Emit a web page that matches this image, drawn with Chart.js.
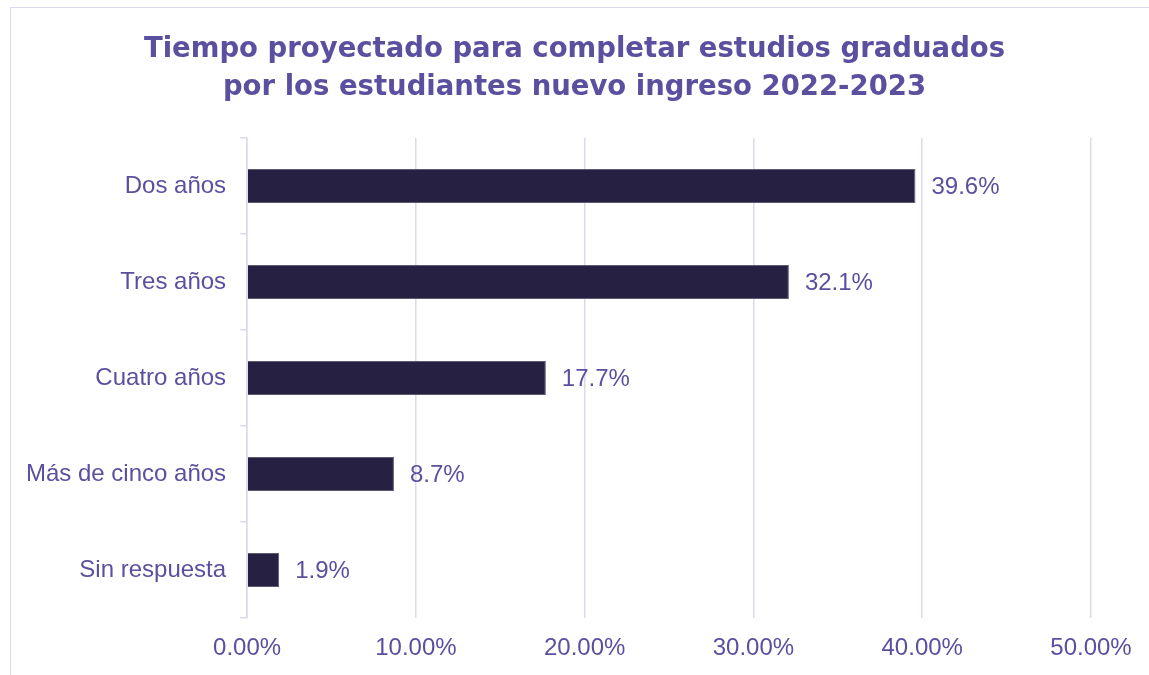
<!DOCTYPE html>
<html>
<head>
<meta charset="utf-8">
<script src="https://cdn.jsdelivr.net/npm/chart.js@4"></script>
<style>
  html, body { margin: 0; padding: 0; background: #ffffff; overflow: hidden; }
  #frame {
    position: absolute; left: 10px; top: 7px;
    width: 1200px; height: 720px;
    border: 1px solid #dcd9ec;
  }
  #chart { position: absolute; left: 0; top: 0; }
</style>
</head>
<body>
<div id="frame"></div>
<canvas id="chart" width="1149" height="675"></canvas>
<script>

const categories = [
  "Dos años",
  "Tres años",
  "Cuatro años",
  "Más de cinco años",
  "Sin respuesta"
]

const percentages = [39.6, 32.1, 17.7, 8.7, 1.9]

const axisTicks = [0, 10, 20, 30, 40, 50]

const titleLines = [
  "Tiempo proyectado para completar estudios graduados",
  "por los estudiantes nuevo ingreso 2022-2023"
]

const purple = "#5b4f9f"
const barColor = "#262142"
const gridColor = "#dcd9ec"
const labelFont = "'Liberation Sans', Arial, sans-serif"


/* ===== title drawn centred on the whole canvas ===== */

const titlePlugin = {
  id: "centerTitle",
  afterDraw(chart) {
    const ctx = chart.ctx
    ctx.save()
    ctx.fillStyle = purple
    ctx.font = "bold 27.5px 'DejaVu Sans', sans-serif"
    ctx.textAlign = "center"
    ctx.textBaseline = "middle"
    titleLines.forEach((line, i) => {
      ctx.fillText(line, chart.width / 2, 50 + i * 38)
    })
    ctx.restore()
  }
}


/* ===== value labels at bar ends ===== */

const valueLabels = {
  id: "valueLabels",
  afterDatasetsDraw(chart) {
    const ctx = chart.ctx
    const meta = chart.getDatasetMeta(0)
    ctx.save()
    ctx.fillStyle = purple
    ctx.font = "24px " + labelFont
    ctx.textAlign = "left"
    ctx.textBaseline = "middle"
    meta.data.forEach((bar, i) => {
      ctx.fillText(percentages[i].toFixed(1) + "%", bar.x + 16, bar.y + 1)
    })
    ctx.restore()
  }
}


new Chart(document.getElementById("chart"), {

  type: "bar",

  data: {
    labels: categories,
    datasets: [
      {
        data: percentages,
        backgroundColor: barColor,
        borderColor: "#5e5a70",
        borderWidth: 1,
        categoryPercentage: 1,
        barPercentage: 0.355
      }
    ]
  },

  options: {

    indexAxis: "y",
    responsive: false,
    animation: false,

    layout: {
      padding: { top: 138, left: 12, right: 58, bottom: 0 }
    },

    plugins: {
      legend: { display: false },
      title: { display: false },
      tooltip: { enabled: false }
    },

    scales: {

      x: {
        min: axisTicks[0],
        max: axisTicks[axisTicks.length - 1],
        afterBuildTicks(scale) {
          scale.ticks = axisTicks.map(v => ({ value: v }))
        },
        afterFit(scale) {
          scale.height = 57
        },
        border: { display: false },
        grid: {
          color: gridColor,
          lineWidth: 1.5,
          drawTicks: false
        },
        ticks: {
          padding: 16,
          color: purple,
          font: { family: labelFont, size: 24 },
          callback: v => v.toFixed(2) + "%"
        }
      },

      y: {
        border: { display: true, color: gridColor, width: 1.5 },
        grid: {
          offset: true,
          drawOnChartArea: false,
          drawTicks: true,
          tickLength: 7,
          color: gridColor,
          lineWidth: 1.5
        },
        ticks: {
          padding: 14,
          color: purple,
          font: { family: labelFont, size: 24 }
        }
      }

    }

  },

  plugins: [titlePlugin, valueLabels]

})

</script>
</body>
</html>
